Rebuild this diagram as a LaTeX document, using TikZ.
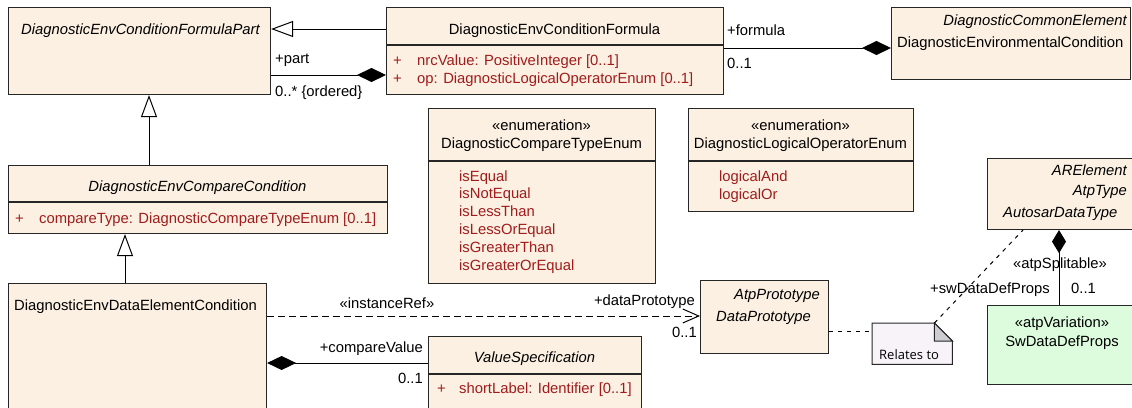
\documentclass[tikz,border=0pt]{standalone}
\usepackage{fontspec}
\setmainfont{Liberation Sans}
\newfontfamily\notefont{Open Sans}
\usepackage{tikz}
\usetikzlibrary{arrows.meta, positioning}

\definecolor{umlfill}{RGB}{251,240,226}
\definecolor{umlred}{RGB}{160,28,28}
\definecolor{umlgreen}{RGB}{221,252,221}
\definecolor{notefill}{RGB}{247,243,248}
\definecolor{notefold}{RGB}{204,204,210}

\tikzset{
    umlbox/.style={shape=rectangle, draw=black!85, line width=1.1pt, fill=umlfill, inner sep=0pt, anchor=north west},
    umltext/.style={inner sep=0pt, font=\fontsize{14.8}{17}\selectfont},
    umlital/.style={inner sep=0pt, font=\fontsize{14.8}{17}\selectfont\itshape},
    umlattr/.style={umltext, text=umlred, anchor=base west},
    divider/.style={draw=black!85, line width=1.1pt},
    assoc/.style={draw=black, line width=1pt},
    generalizes/.style={assoc, -{Triangle[open, length=22pt, width=16pt]}},
    composes/.style={assoc, {Diamond[length=29pt, width=14pt]}-},
    instref/.style={assoc, dash pattern=on 7pt off 4pt, -{Straight Barb[length=16pt, width=14pt]}},
    noteline/.style={assoc, dash pattern=on 4pt off 5pt},
}

\begin{document}
\begin{tikzpicture}[x=1pt, y=-1pt]
    \clip (0,0) rectangle (1132,407);
    %\usetikzlibrary{arrows.meta, positioning}
    \path (8,7) node [umlbox, minimum width=262, minimum height=87] (part) {}
        (386,7) node [umlbox, minimum width=337, minimum height=87] (formula) {}
        (891,7) node [umlbox, minimum width=239, minimum height=72] (envcond) {}
        (8,165) node [umlbox, minimum width=379, minimum height=68] (cmpcond) {}
        (8,283) node [umlbox, minimum width=258, minimum height=140] (dataelem) {}
        (428,108) node [umlbox, minimum width=227, minimum height=175] (cmpenum) {}
        (688,108) node [umlbox, minimum width=225, minimum height=103] (logenum) {}
        (700,280) node [umlbox, minimum width=128, minimum height=73] (dataproto) {}
        (428,336) node [umlbox, minimum width=213, minimum height=90] (valspec) {}
        (987,158) node [umlbox, minimum width=160, minimum height=71] (autosar) {}
        (987,305) node [umlbox, fill=umlgreen, minimum width=160, minimum height=79] (swprops) {}
        (872,323) node [shape=rectangle, inner sep=0pt, anchor=north west, minimum width=80, minimum height=41] (note) {};

    % compartments
    \draw [divider] (formula.west |- 0,45) -- (formula.east |- 0,45);
    \draw [divider] (cmpcond.west |- 0,202) -- (cmpcond.east |- 0,202);
    \draw [divider] (cmpenum.west |- 0,161) -- (cmpenum.east |- 0,161);
    \draw [divider] (logenum.west |- 0,161) -- (logenum.east |- 0,161);
    \draw [divider] (valspec.west |- 0,374) -- (valspec.east |- 0,374);

    % note
    \draw [fill=notefill, draw=black!85, line width=1pt] (note.north west) -- ([xshift=-18pt]note.north east)
        -- ([yshift=-18pt]note.north east) -- (note.south east) -- (note.south west) -- cycle;
    \draw [fill=notefold, draw=black!85, line width=1pt] ([xshift=-18pt]note.north east)
        -- ([xshift=-18pt, yshift=-18pt]note.north east) -- ([yshift=-18pt]note.north east) -- cycle;

    \path (21,34) node [umlital, anchor=base west] (partName) {DiagnosticEnvConditionFormulaPart}
        (554.5,34) node [umltext, anchor=base] (formulaName) {DiagnosticEnvConditionFormula}
        (393,65.5) node [umlattr] (formulaPlusA) {+}
        (417,65.5) node [umlattr] (formulaAttrA) {nrcValue: PositiveInteger [0..1]}
        (393,83.5) node [umlattr] (formulaPlusB) {+}
        (417,83.5) node [umlattr] (formulaAttrB) {op: DiagnosticLogicalOperatorEnum [0..1]}
        (1127,25) node [umlital, anchor=base east] (envcondBase) {DiagnosticCommonElement}
        (897,47) node [umltext, anchor=base west] (envcondName) {DiagnosticEnvironmentalCondition}
        (197.5,191) node [umlital, anchor=base] (cmpcondName) {DiagnosticEnvCompareCondition}
        (15,223) node [umlattr] (cmpcondPlus) {+}
        (39,223) node [umlattr] (cmpcondAttr) {compareType: DiagnosticCompareTypeEnum [0..1]}
        (14,310) node [umltext, anchor=base west] (dataelemName) {DiagnosticEnvDataElementCondition}
        (541.5,130) node [umltext, anchor=base] (cmpenumStereo) {«enumeration»}
        (541.5,148) node [umltext, anchor=base] (cmpenumName) {DiagnosticCompareTypeEnum}
        (800.5,130) node [umltext, anchor=base] (logenumStereo) {«enumeration»}
        (800.5,148) node [umltext, anchor=base] (logenumName) {DiagnosticLogicalOperatorEnum}
        (719,181) node [umlattr] (logenumItemA) {logicalAnd}
        (719,199) node [umlattr] (logenumItemB) {logicalOr}
        (820,299) node [umlital, anchor=base east] (dataprotoBase) {AtpPrototype}
        (716,321) node [umlital, anchor=base west] (dataprotoName) {DataPrototype}
        (534.5,362) node [umlital, anchor=base] (valspecName) {ValueSpecification}
        (437,393) node [umlattr] (valspecPlus) {+}
        (459,393) node [umlattr] (valspecAttr) {shortLabel: Identifier [0..1]}
        (1127,175) node [umlital, anchor=base east] (autosarBaseA) {ARElement}
        (1127,195) node [umlital, anchor=base east] (autosarBaseB) {AtpType}
        (1003,217) node [umlital, anchor=base west] (autosarName) {AutosarDataType}
        (1062,327) node [umltext, anchor=base] (swpropsStereo) {«atpVariation»}
        (1062,346) node [umltext, anchor=base] (swpropsName) {SwDataDefProps}
        (879,359) node [inner sep=0pt, anchor=base west, font=\notefont\fontsize{13}{15}\selectfont] (noteText) {Relates to};

    \foreach \val [count=\i] in {isEqual, isNotEqual, isLessThan, isLessOrEqual, isGreaterThan, isGreaterOrEqual}
        \node [umlattr] (cmpenumItem\i) at (459, {163.1+17.9*\i}) {\val};

    % connectors
    \draw [generalizes] (formula.west |- 0,29) -- (part.east |- 0,29);
    \draw [composes] (formula.west |- 0,75) -- (part.east |- 0,75);
    \draw [composes] (envcond.west |- 0,48) -- (formula.east |- 0,48);
    \draw [generalizes] (cmpcond.north -| 149,0) -- (part.south -| 149,0);
    \draw [generalizes] (dataelem.north -| 125,0) -- (cmpcond.south -| 125,0);
    \draw [instref] (dataelem.east |- 0,316) -- (dataproto.west |- 0,316);
    \draw [composes] (dataelem.east |- 0,363) -- (valspec.west |- 0,363);
    \draw [assoc, {Diamond[length=23pt, width=14pt]}-] (autosar.south -| 1059,0) -- (swprops.north -| 1059,0);
    \draw [noteline] (dataproto.east |- 0,331) -- (note.west |- 0,331);
    \draw [noteline] ([xshift=-18pt]note.north east) -- (autosar.south -| 1023,0);

    \path (275,63) node [umltext, anchor=base west] (partRole) {+part}
        (275,96) node [umltext, anchor=base west] (partMult) {0..* \{ordered\}}
        (727,35) node [umltext, anchor=base west] (formulaRole) {+formula}
        (727,68) node [umltext, anchor=base west] (formulaMult) {0..1}
        (387,308) node [umltext, anchor=base] (instrefStereo) {«instanceRef»}
        (695,305) node [umltext, anchor=base east] (dataprotoRole) {+dataPrototype}
        (697,337) node [umltext, anchor=base east] (dataprotoMult) {0..1}
        (423,352) node [umltext, anchor=base east] (valspecRole) {+compareValue}
        (423,383) node [umltext, anchor=base east] (valspecMult) {0..1}
        (1060,268) node [umltext, anchor=base] (swpropsStereoRole) {«atpSplitable»}
        (1050,293) node [umltext, anchor=base east] (swpropsRole) {+swDataDefProps}
        (1071,293) node [umltext, anchor=base west] (swpropsMult) {0..1};
\end{tikzpicture}
\end{document}
